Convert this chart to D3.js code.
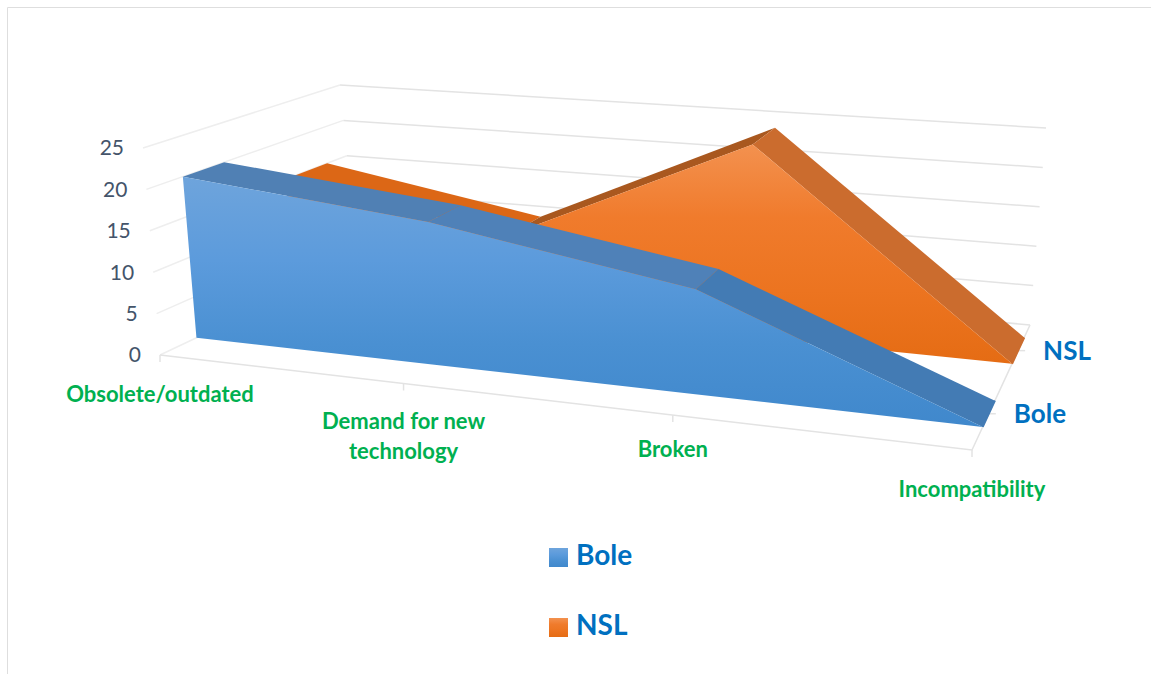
<!DOCTYPE html>
<html lang="en">
<head>
    <meta charset="UTF-8">
    <title>3-D area chart</title>
    <style>
        body { margin: 0; padding: 0; background: #fff; }
        svg { display: block; font-family: Lato, "Open Sans", sans-serif; }
        .grid { fill: none; stroke: #e3e3e3; stroke-width: 1.5px; }
        .grid-side { fill: none; stroke: #eeeeee; stroke-width: 1.5px; }
        .tick-label { fill: #44546a; font-size: 21px; text-anchor: end; dominant-baseline: middle; }
        .cat-label { fill: #00b050; font-size: 22px; font-weight: 700; text-anchor: middle; }
        .series-label { fill: #0070c0; font-size: 26px; font-weight: 700; dominant-baseline: middle; }
        .legend-label { fill: #0070c0; font-size: 28px; font-weight: 700; dominant-baseline: middle; }
    </style>
</head>
<body>
    <svg id="chart" width="1151" height="674"></svg>

    <script src="https://d3js.org/d3.v7.min.js"></script>
    <script>
        // Values
        const categories = ["Obsolete/outdated", "Demand for new technology", "Broken", "Incompatibility"];
        const seriesNames = ["Bole", "NSL"];
        const boleValues = [20, 17, 12, 0];
        const nslValues = [15, 10, 24, 0];
        const valueTicks = [0, 5, 10, 15, 20, 25];

        const svg = d3.select("#chart");

        // Frame of the chart area
        svg.append("path").attr("d", "M7.5,674V7.5H1151").attr("fill", "none").attr("stroke", "#dedede");

        // Box corners on screen, the 3-D view is built from these
        const box = {
            frontLeft: { bottom: [160, 355], top: [143, 148] },
            backLeft: { bottom: [357, 262], top: [340, 85] },
            frontRight: { bottom: [972, 450], top: [992, 215] },
            backRight: { bottom: [1030, 325], top: [1046, 128] }
        };

        const xScale = d3.scalePoint().domain(categories).range([0, 1]);
        const depthScale = d3.scalePoint().domain(seriesNames).range([0.29, 0.795]);
        const valueScale = d3.scaleLinear().domain([0, 25]).range([0, 1]);
        const bandHalf = 0.105;

        // Perspective squeeze along the category axis
        const perspective = 1.167;
        const warp = t => t / (t + perspective * (1 - t));

        const mix = (a, b, t) => [a[0] + (b[0] - a[0]) * t, a[1] + (b[1] - a[1]) * t];

        function project(category, depth, value) {
            const t = warp(xScale(category));
            const h = valueScale(value);
            const left = mix(mix(box.frontLeft.bottom, box.backLeft.bottom, depth), mix(box.frontLeft.top, box.backLeft.top, depth), h);
            const right = mix(mix(box.frontRight.bottom, box.backRight.bottom, depth), mix(box.frontRight.top, box.backRight.top, depth), h);
            return mix(left, right, t);
        }

        const first = categories[0];
        const last = categories[categories.length - 1];
        const line = d3.line();

        // Gradients for the front faces
        const defs = svg.append("defs");
        function addGradient(id, stops) {
            const g = defs.append("linearGradient").attr("id", id)
                .attr("x1", 0).attr("y1", 0).attr("x2", 0).attr("y2", 1);
            stops.forEach((c, i) => g.append("stop").attr("offset", i / (stops.length - 1)).attr("stop-color", c));
        }
        addGradient("fill-Bole", ["#6ea4dc", "#5c9bdc", "#4a90d2", "#4088cc"]);
        addGradient("fill-NSL", ["#f3914f", "#f07b2c", "#ec7420", "#e56c14"]);

        // Walls and floor
        valueTicks.forEach(v => {
            svg.append("path").attr("class", "grid-side")
                .attr("d", line([project(first, 0, v), project(first, 1, v)]));
            svg.append("path").attr("class", "grid")
                .attr("d", line([project(first, 1, v), project(last, 1, v)]));
            const p = project(first, 0, v);
            svg.append("text").attr("class", "tick-label")
                .attr("x", p[0] - 19).attr("y", p[1] + 2).text(v);
        });
        svg.append("path").attr("class", "grid")
            .attr("d", line([project(first, 0, 0), project(last, 0, 0), project(last, 1, 0)]));

        // Small ticks on the floor edges
        categories.forEach(c => {
            const p = project(c, 0, 0);
            svg.append("path").attr("class", "grid").attr("d", line([p, [p[0], p[1] + 7]]));
        });
        seriesNames.forEach(s => {
            const p = project(last, depthScale(s), 0);
            svg.append("path").attr("class", "grid").attr("d", line([p, [p[0] + 7, p[1]]]));
        });

        // One 3-D area: top faces first, then the front face
        function drawArea(name, values, faceColors) {
            const front = depthScale(name) - bandHalf;
            const back = depthScale(name) + bandHalf;

            values.slice(0, -1).forEach((v, i) => {
                const a = categories[i];
                const b = categories[i + 1];
                svg.append("path")
                    .attr("d", line([project(a, front, v), project(b, front, values[i + 1]),
                        project(b, back, values[i + 1]), project(a, back, v)]) + "Z")
                    .attr("fill", faceColors[i]);
            });

            const topEdge = categories.map((c, i) => project(c, front, values[i]));
            const bottomEdge = categories.map(c => project(c, front, 0)).reverse();
            svg.append("path")
                .attr("d", line(topEdge.concat(bottomEdge)) + "Z")
                .attr("fill", "url(#fill-" + name + ")");

            // end face at the right side
            const endValue = values[values.length - 1];
            svg.append("path")
                .attr("d", line([project(last, front, 0), project(last, back, 0),
                    project(last, back, endValue), project(last, front, endValue)]) + "Z")
                .attr("stroke", faceColors[faceColors.length - 1]).attr("stroke-width", 2);
        }

        drawArea("NSL", nslValues, ["#dc6716", "#a9581f", "#cb6c2e"]);
        drawArea("Bole", boleValues, ["#5080b4", "#4f81b8", "#437bb4"]);

        // Category labels, wrapped like the original
        const catLines = [["Obsolete/outdated"], ["Demand for new", "technology"], ["Broken"], ["Incompatibility"]];
        const catDrop = [47, 46, 42, 47];
        categories.forEach((c, i) => {
            const p = project(c, 0, 0);
            catLines[i].forEach((txt, j) => {
                svg.append("text").attr("class", "cat-label")
                    .attr("x", p[0]).attr("y", p[1] + catDrop[i] + j * 30).text(txt);
            });
        });

        // Series names on the depth axis
        seriesNames.forEach(s => {
            const p = project(last, depthScale(s), 0);
            svg.append("text").attr("class", "series-label")
                .attr("x", p[0] + 25).attr("y", p[1] + 3).text(s);
        });

        // Legend
        const legendY = d3.scalePoint().domain(seriesNames).range([558, 628]);
        seriesNames.forEach(s => {
            svg.append("rect").attr("x", 549).attr("y", legendY(s) - 10).attr("width", 19).attr("height", 19)
                .attr("fill", "url(#fill-" + s + ")");
            svg.append("text").attr("class", "legend-label")
                .attr("x", 576).attr("y", legendY(s)).text(s);
        });
    </script>
</body>
</html>
